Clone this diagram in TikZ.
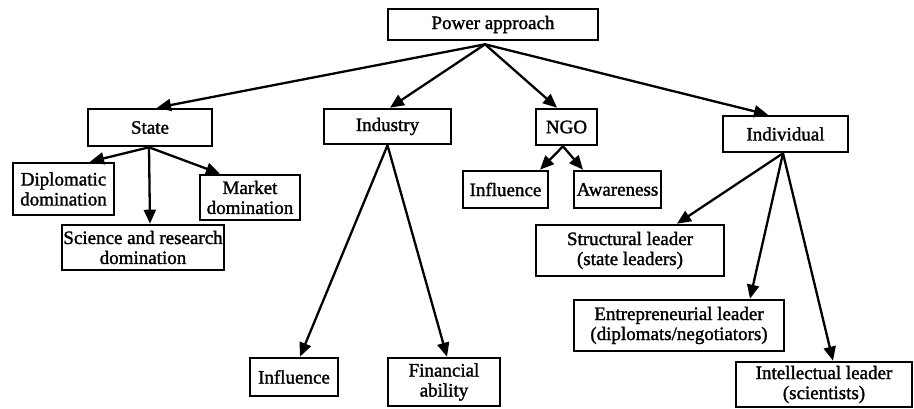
\documentclass[tikz,border=0pt]{standalone}
\usepackage{fontspec}
\setmainfont{Liberation Serif}[FakeBold=1.5]
\usetikzlibrary{arrows.meta}
\begin{document}
\begin{tikzpicture}[x=1pt,y=-1pt,
 box/.style={draw,line width=2.6pt,inner sep=0pt,align=center,font=\fontsize{19}{20}\selectfont},
 arr/.style={line width=2.3pt,-{Triangle[length=14pt,width=12pt]}}]
\useasboundingbox (0,0) rectangle (914,409);
\node[box,minimum width=210pt,minimum height=31pt] (pa) at (493,24.5) {Power approach};
\node[box,minimum width=124pt,minimum height=37pt] (st) at (150,127.5) {State};
\node[box,minimum width=127pt,minimum height=35pt] (in) at (387.5,126.5) {Industry};
\node[box,minimum width=61pt,minimum height=36pt] (ngo) at (566.5,127) {NGO};
\node[box,minimum width=125pt,minimum height=36pt] (ind) at (785.5,134) {Individual};
\node[box,minimum width=101pt,minimum height=52pt] (dip) at (63.5,189) {Diplomatic\\domination};
\node[box,minimum width=100pt,minimum height=45pt] (mkt) at (250,197.5) {Market\\domination};
\node[box,minimum width=162pt,minimum height=45pt] (sci) at (143,247.5) {Science and research\\domination};
\node[box,minimum width=88pt,minimum height=38pt] (inf1) at (294,377) {Influence};
\node[box,minimum width=112pt,minimum height=48pt] (fin) at (444,382) {Financial\\ability};
\node[box,minimum width=85pt,minimum height=37pt] (inf2) at (505.5,189.5) {Influence};
\node[box,minimum width=87pt,minimum height=37pt] (awa) at (617.5,189.5) {Awareness};
\node[box,minimum width=188pt,minimum height=51pt] (str) at (630,250.5) {Structural leader\\(state leaders)};
\node[box,minimum width=210pt,minimum height=51pt] (ent) at (679,325.5) {Entrepreneurial leader\\(diplomats/negotiators)};
\node[box,minimum width=176pt,minimum height=45pt] (int) at (824,384.5) {Intellectual leader\\(scientists)};
\coordinate (po) at ([xshift=-8pt,yshift=-3pt]pa.south);
\draw[arr] (po) -- ([xshift=7pt]st.north);
\draw[arr] (po) -- ([xshift=2.5pt]in.north);
\draw[arr] (po) -- ([xshift=-9.5pt]ngo.north);
\draw[arr] (po) -- ([xshift=-17.5pt]ind.north);
\draw[arr] ([xshift=-1pt]st.south) -- ([xshift=26.5pt]dip.north);
\draw[arr] ([xshift=-1pt]st.south) -- ([xshift=7pt]sci.north);
\draw[arr] ([xshift=-1pt]st.south) -- ([xshift=-30pt]mkt.north);
\draw[arr] (in.south) -- ([xshift=6pt]inf1.north);
\draw[arr] (in.south) -- ([xshift=3pt]fin.north);
\draw[arr] ([xshift=-3.5pt]ngo.south) -- ([xshift=34.5pt]inf2.north);
\draw[arr] ([xshift=-3.5pt]ngo.south) -- ([xshift=-34.5pt]awa.north);
\draw[arr] ([xshift=-2.5pt]ind.south) -- ([xshift=47pt]str.north);
\draw[arr] ([xshift=-2.5pt]ind.south) -- ([xshift=71pt]ent.north);
\draw[arr] ([xshift=-2.5pt]ind.south) -- ([xshift=9pt]int.north);
\end{tikzpicture}
\end{document}
